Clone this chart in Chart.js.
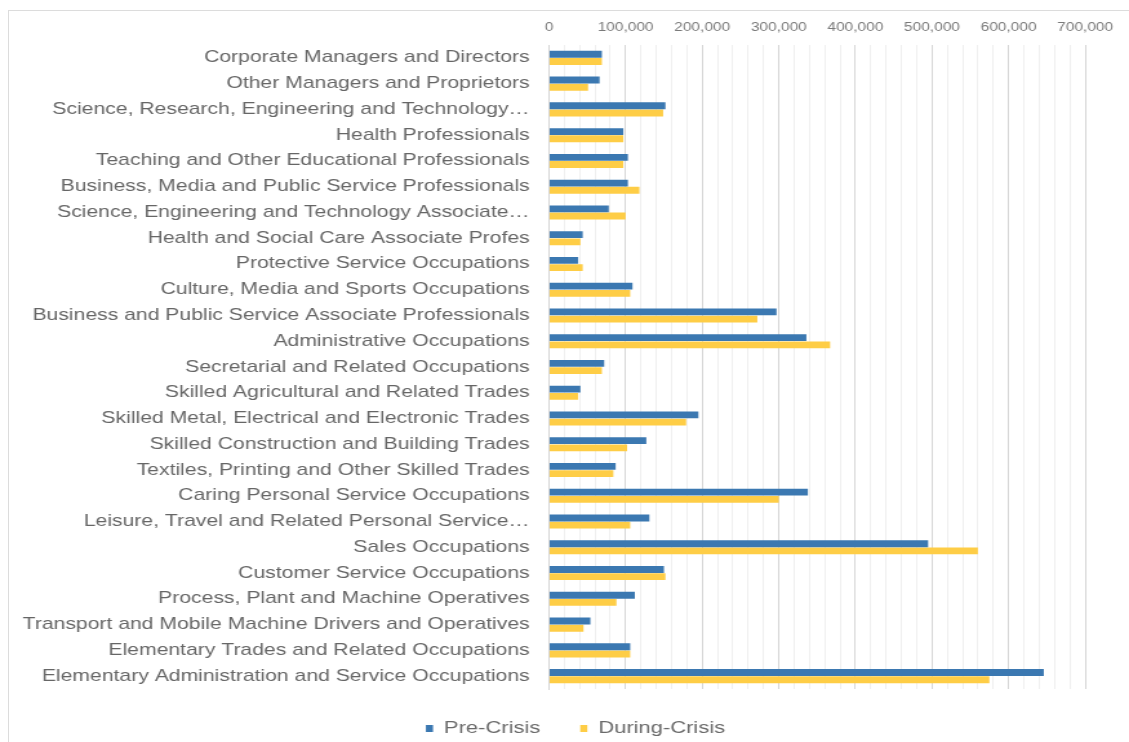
<!DOCTYPE html>
<html>
<head>
<meta charset="utf-8">
<script src="https://cdn.jsdelivr.net/npm/chart.js@4"></script>
<style>
  html, body { margin: 0; padding: 0; background: #fff; overflow: hidden; width: 1129px; height: 742px; }
  #frame { position: absolute; left: 8px; top: 10px; width: 1200px; height: 800px; border: 1px solid #dcdcdc; }
  /* the original picture is stretched sideways: draw it narrow, then scale it */
  #grafico { position: absolute; left: -9px; top: -11px; width: 875px; height: 780px; transform: scaleX(1.2903); transform-origin: 0 0; }
</style>
</head>
<body>
<div id="frame"><canvas id="grafico" width="875" height="780"></canvas></div>
<script>
// categories (top to bottom)
const categorias = [
  "Corporate Managers and Directors",
  "Other Managers and Proprietors",
  "Science, Research, Engineering and Technology\u2026",
  "Health Professionals",
  "Teaching and Other Educational Professionals",
  "Business, Media and Public Service Professionals",
  "Science, Engineering and Technology Associate\u2026",
  "Health and Social Care Associate Profes",
  "Protective Service Occupations",
  "Culture, Media and Sports Occupations",
  "Business and Public Service Associate Professionals",
  "Administrative Occupations",
  "Secretarial and Related Occupations",
  "Skilled Agricultural and Related Trades",
  "Skilled Metal, Electrical and Electronic Trades",
  "Skilled Construction and Building Trades",
  "Textiles, Printing and Other Skilled Trades",
  "Caring Personal Service Occupations",
  "Leisure, Travel and Related Personal Service\u2026",
  "Sales Occupations",
  "Customer Service Occupations",
  "Process, Plant and Machine Operatives",
  "Transport and Mobile Machine Drivers and Operatives",
  "Elementary Trades and Related Occupations",
  "Elementary Administration and Service Occupations"
];

const preCrisis = [
  69000, 66000, 152000, 97000, 103000, 103000, 78000, 44000, 38000, 109000,
  297000, 336000, 72000, 41000, 195000, 127000, 87000, 338000, 131000, 495000,
  150000, 112000, 54000, 106000, 646000
];

const duringCrisis = [
  69000, 51000, 149000, 97000, 97000, 118000, 100000, 41000, 44000, 106000,
  272000, 367000, 69000, 38000, 179000, 102000, 84000, 300000, 106000, 560000,
  152000, 88000, 45000, 106000, 575000
];

const X_MAX = 700000;
const X_STEP = 20000;   // minor gridlines
const X_MAJOR = 100000; // labelled gridlines

const FONTE = "'Liberation Sans', Arial, sans-serif";
const ctx = document.getElementById("grafico").getContext("2d");

// nudge the legend a little to the right, as in the original
const moverLegenda = {
  id: "moverLegenda",
  afterLayout(chart) {
    chart.legend.left += 21;
    chart.legend.right += 21;
  }
};

new Chart(ctx, {
  type: "bar",
  data: {
    labels: categorias,
    datasets: [
      {
        label: "Pre-Crisis",
        data: preCrisis,
        backgroundColor: "#3b78b1",
        categoryPercentage: 0.56,
        barPercentage: 0.95
      },
      {
        label: "During-Crisis",
        data: duringCrisis,
        backgroundColor: "#fecd46",
        categoryPercentage: 0.56,
        barPercentage: 0.95
      }
    ]
  },
  plugins: [moverLegenda],
  options: {
    indexAxis: "y",
    responsive: false,
    animation: false,
    layout: { padding: { left: 9, top: 11, right: 34, bottom: 33 } },
    plugins: {
      tooltip: { enabled: false },
      legend: {
        position: "bottom",
        labels: {
          color: "#6a6a6a",
          font: { family: FONTE, size: 17 },
          boxWidth: 5.5,
          boxHeight: 7,
          padding: 31
        }
      }
    },
    scales: {
      x: {
        position: "top",
        min: 0,
        max: X_MAX,
        afterFit: s => { s.height = 34; },
        border: { display: false },
        grid: {
          drawTicks: false,
          color: c => (c.tick && c.tick.value % X_MAJOR === 0) ? "#d6d6d6" : "#efefef"
        },
        ticks: {
          stepSize: X_STEP,
          autoSkip: false,
          maxRotation: 0,
          padding: 10,
          color: "#7a7a7a",
          font: { family: FONTE, size: 12 },
          callback: v => (v % X_MAJOR === 0) ? v.toLocaleString("en-US") : ""
        }
      },
      y: {
        afterFit: s => { s.width = 416.5; },
        border: { display: true, color: "#d6d6d6" },
        grid: { display: false, drawTicks: false },
        ticks: {
          padding: 15,
          autoSkip: false,
          color: "#666666",
          font: { family: FONTE, size: 16.4 }
        }
      }
    }
  }
});
</script>
</body>
</html>
